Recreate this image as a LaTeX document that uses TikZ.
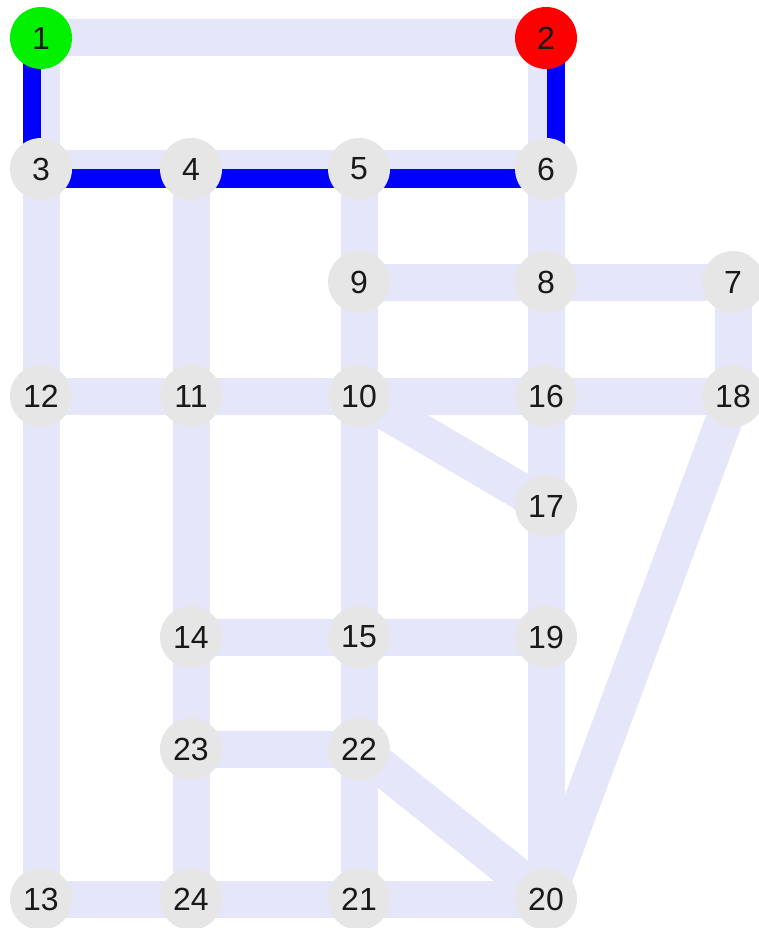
\documentclass[tikz,border=0pt]{standalone}
\usepackage{fontspec}
\setmainfont{Liberation Sans}
\usetikzlibrary{calc}
\definecolor{edgec}{RGB}{230,230,250}
\definecolor{nodec}{RGB}{230,230,230}
\definecolor{startc}{RGB}{0,240,0}
\definecolor{endc}{RGB}{255,0,0}
\pgfdeclarelayer{edgelayer}
\pgfdeclarelayer{pathlayer}
\pgfsetlayers{edgelayer,pathlayer,main}
\begin{document}
\begin{tikzpicture}[x=1pt,y=-1pt,
  vtx/.style={circle,fill=nodec,minimum size=62pt,inner sep=0pt,text=black!90,font=\fontsize{32}{32}\selectfont},
  edge/.style={draw=edgec,line width=37pt},
  pathline/.style={draw=blue,line width=18pt}]
\useasboundingbox (0,0) rectangle (758,928);
\node[vtx,fill=startc] (n1) at (41,38) {1};
\node[vtx,fill=endc] (n2) at (546,38) {2};
\node[vtx] (n3) at (41,169) {3};
\node[vtx] (n4) at (191,169) {4};
\node[vtx] (n5) at (359,169) {5};
\node[vtx] (n6) at (546,169) {6};
\node[vtx] (n9) at (359,282) {9};
\node[vtx] (n8) at (546,282) {8};
\node[vtx] (n7) at (733,282) {7};
\node[vtx] (n12) at (41,396) {12};
\node[vtx] (n11) at (191,396) {11};
\node[vtx] (n10) at (359,396) {10};
\node[vtx] (n16) at (546,396) {16};
\node[vtx] (n18) at (733,396) {18};
\node[vtx] (n17) at (546,506) {17};
\node[vtx] (n14) at (191,637) {14};
\node[vtx] (n15) at (359,637) {15};
\node[vtx] (n19) at (546,637) {19};
\node[vtx] (n23) at (191,749) {23};
\node[vtx] (n22) at (359,749) {22};
\node[vtx] (n13) at (41,899) {13};
\node[vtx] (n24) at (191,899) {24};
\node[vtx] (n21) at (359,899) {21};
\node[vtx] (n20) at (546,899) {20};
\begin{pgfonlayer}{edgelayer}
\foreach \a/\b in {1/2,1/3,2/6,3/4,4/5,5/6,3/12,4/11,5/9,6/8,9/8,8/7,7/18,9/10,8/16,
  12/11,11/10,10/16,16/18,10/17,16/17,12/13,11/14,10/15,17/19,18/20,14/15,15/19,
  19/20,14/23,15/22,23/22,22/20,22/21,23/24,13/24,24/21,21/20}
  \draw[edge] (n\a.center) -- (n\b.center);
\end{pgfonlayer}
\begin{pgfonlayer}{pathlayer}
\draw[pathline] ($(n1.center)+(-9.5pt,0pt)$) -- ($(n3.center)+(-9.5pt,-9.5pt)$)
  -- ($(n6.center)+(9.5pt,-9.5pt)$) -- ($(n2.center)+(9.5pt,0pt)$);
\end{pgfonlayer}
\end{tikzpicture}
\end{document}
